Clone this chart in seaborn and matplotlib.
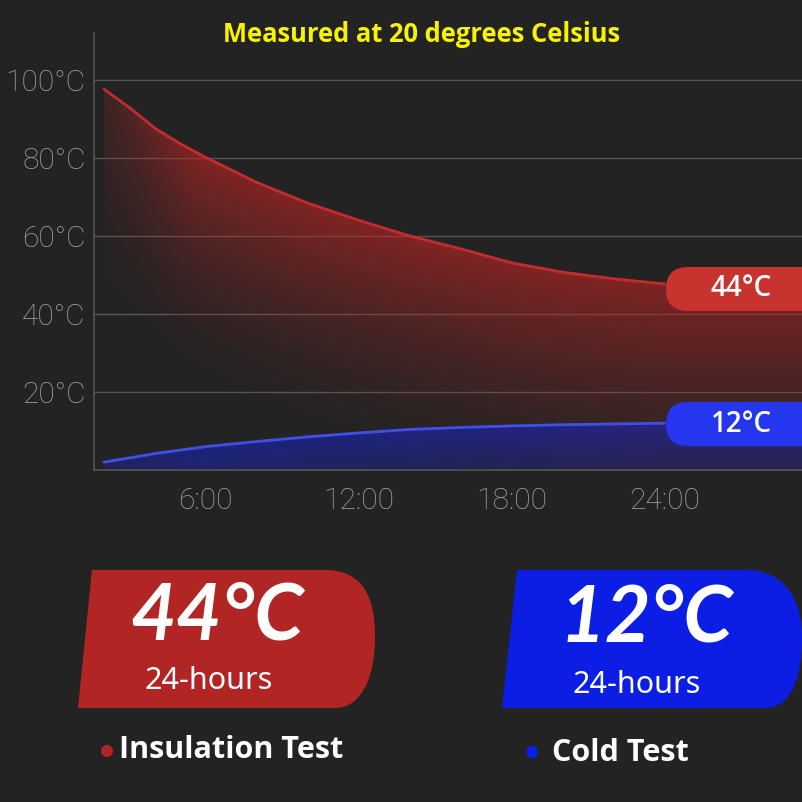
import numpy as np
import pandas as pd
import matplotlib
matplotlib.use("Agg")
import matplotlib.pyplot as plt
import matplotlib.patches as mpatches
from matplotlib.path import Path
import seaborn as sns

# Data
hours = [2, 3, 4, 5, 6, 8, 10, 12, 14, 16, 18, 20, 22, 24]
insulation_temp = [97.6, 92.9, 87.6, 83.6, 80.1, 73.7, 68.4, 64.0, 60.0, 56.7, 53.1, 50.7, 49.0, 47.7]
cold_temp = [2.0, 3.1, 4.2, 5.1, 6.0, 7.3, 8.5, 9.5, 10.4, 10.9, 11.3, 11.6, 11.8, 12.0]
y_ticks = [20, 40, 60, 80, 100]
y_tick_labels = ["20°C", "40°C", "60°C", "80°C", "100°C"]
x_ticks = [6, 12, 18, 24]
x_tick_labels = ["6:00", "12:00", "18:00", "24:00"]
insulation_result = "44°C"
cold_result = "12°C"
duration_label = "24-hours"
title = "Measured at 20 degrees Celsius"

BG = "#232323"
RED = "#c22c2c"
BLUE = "#4050e6"
W = H = 802

sns.set_theme(style="dark", rc={
    "figure.facecolor": BG,
    "axes.facecolor": BG,
    "savefig.facecolor": BG,
})
plt.rcParams["font.family"] = ["Noto Sans", "DejaVu Sans"]


def px(x, y):
    # pixel coords (origin top-left) -> figure fraction
    return (x / W, 1 - y / H)


df = pd.DataFrame({
    "hour": hours * 2,
    "temp": insulation_temp + cold_temp,
    "test": ["Insulation"] * len(hours) + ["Cold"] * len(hours),
})

fig = plt.figure(figsize=(W / 100, H / 100), dpi=100)
ax = fig.add_axes([94 / W, 1 - 470 / H, 1 - 94 / W, (470 - 33) / H])

x_min, x_max = 1.61, 29.4
ax.set_xlim(x_min, x_max)
ax.set_ylim(0, 112)


def gradient_fill(xs, ys, rgb, a_max, depth, power, left_fade):
    # alpha fades with distance below the curve
    xs_ext = list(xs) + [x_max]
    ys_ext = list(ys) + [ys[-1]]
    poly = ax.fill_between(xs_ext, 0, ys_ext, facecolor="none", edgecolor="none")
    gx = np.linspace(x_min, x_max, 400)
    gy = np.linspace(0, 112, 400)
    cx = np.interp(gx, xs_ext, ys_ext)
    dist = cx[None, :] - gy[:, None]
    a = np.clip(1 - dist / depth, 0, 1) ** power
    hf = left_fade + (1 - left_fade) * np.clip((gx - xs[0]) / 3.5, 0, 1)
    img = np.zeros((len(gy), len(gx), 4))
    img[..., :3] = rgb
    img[..., 3] = a_max * a * hf[None, :]
    im = ax.imshow(img, origin="lower", extent=[x_min, x_max, 0, 112],
                   aspect="auto", interpolation="bilinear", zorder=1)
    im.set_clip_path(poly.get_paths()[0], transform=ax.transData)


gradient_fill(hours, insulation_temp, (0.78, 0.14, 0.14), 0.58, 60, 1.6, 0.3)
gradient_fill(hours, cold_temp, (0.10, 0.14, 0.80), 0.55, 16, 0.6, 0.6)

sns.lineplot(data=df, x="hour", y="temp", hue="test",
             palette={"Insulation": RED, "Cold": BLUE},
             linewidth=2.0, legend=False, ax=ax, zorder=3)

ax.set_xticks(x_ticks)
ax.set_xticklabels(x_tick_labels)
ax.set_yticks(y_ticks)
ax.set_yticklabels(y_tick_labels)
ax.set_xlabel("")
ax.set_ylabel("")
ax.tick_params(axis="both", length=0, colors="#a4a4a4", labelsize=21.5)
ax.tick_params(axis="y", pad=6)
ax.tick_params(axis="x", pad=12)
for lbl in ax.get_xticklabels() + ax.get_yticklabels():
    lbl.set_fontfamily(["Roboto", "DejaVu Sans"])
    lbl.set_fontweight("light")
ax.yaxis.grid(True, color="#555555", linewidth=1)
ax.xaxis.grid(False)
for side in ["top", "right"]:
    ax.spines[side].set_visible(False)
for side in ["left", "bottom"]:
    ax.spines[side].set_visible(True)
    ax.spines[side].set_color("#555555")
    ax.spines[side].set_linewidth(1.2)

# title
fig.text(*px(422, 35), title, ha="center", va="center", color="#f8f400",
         fontsize=18.4, fontweight="bold", family=["Open Sans", "DejaVu Sans"])

# end-of-curve pills
for top, color, txt, ty in [(267, "#c8322f", insulation_result, 289),
                            (402, "#2436ee", cold_result, 425)]:
    pill = mpatches.FancyBboxPatch(px(666, top + 44), (900 - 666) / W, 44 / H,
                                   boxstyle=f"round,pad=0,rounding_size={22 / W}",
                                   transform=fig.transFigure, facecolor=color,
                                   edgecolor="none", zorder=5)
    fig.add_artist(pill)
    fig.text(*px(741, ty), txt, ha="center", va="center", color="white",
             fontsize=20, fontweight="semibold", family=["Open Sans", "DejaVu Sans"],
             zorder=6)

# result cards
codes = [Path.MOVETO, Path.LINETO, Path.CURVE4, Path.CURVE4, Path.CURVE4,
         Path.CURVE4, Path.CURVE4, Path.CURVE4, Path.LINETO, Path.CLOSEPOLY]
red_card = [(92, 570), (325, 570), (365, 570), (375, 600), (375, 637),
            (375, 680), (360, 708), (335, 708), (78, 708), (92, 570)]
blue_card = [(517, 570), (746, 570), (785, 570), (802, 600), (802, 637),
             (802, 680), (790, 708), (765, 708), (502, 708), (517, 570)]
for verts, color in [(red_card, "#b12624"), (blue_card, "#0c1ee4")]:
    path = Path([px(*v) for v in verts], codes)
    fig.add_artist(mpatches.PathPatch(path, facecolor=color, edgecolor="none",
                                      transform=fig.transFigure))

big = dict(ha="center", va="center", color="white", fontsize=57, style="italic",
           fontweight="bold", family=["Lato", "DejaVu Sans"])
fig.text(*px(217, 618), insulation_result, **big)
fig.text(*px(646, 620), cold_result, **big)
fig.text(*px(209, 681), duration_label, ha="center", va="center", color="white",
         fontsize=22)
fig.text(*px(637, 685), duration_label, ha="center", va="center", color="white",
         fontsize=22)

# legend-like labels
for (cx, cy), color in [((107, 751), "#b12624"), ((532, 752), "#0c1ee4")]:
    fig.add_artist(mpatches.Ellipse(px(cx, cy), 12 / W, 12 / H, facecolor=color,
                                    edgecolor="none", transform=fig.transFigure))
fig.text(*px(119, 750), "Insulation Test", ha="left", va="center", color="white",
         fontsize=22, fontweight="bold", family=["Open Sans", "DejaVu Sans"])
fig.text(*px(552, 753), "Cold Test", ha="left", va="center", color="white",
         fontsize=22, fontweight="bold", family=["Open Sans", "DejaVu Sans"])

fig.savefig("out.png", dpi=100, facecolor=BG)
